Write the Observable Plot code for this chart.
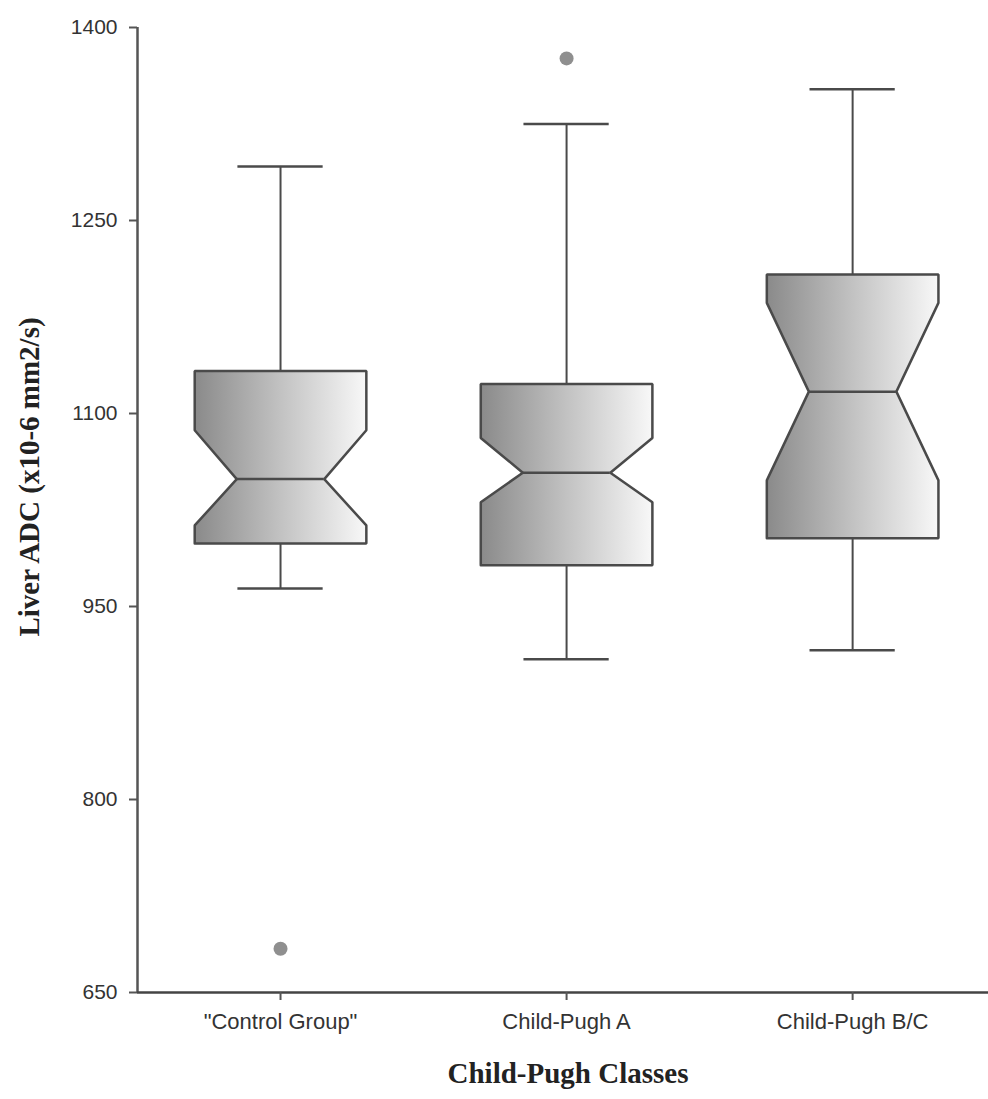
<!DOCTYPE html>
<html>
<head>
<meta charset="utf-8">
<script src="https://cdn.jsdelivr.net/npm/d3@7"></script>
<script src="https://cdn.jsdelivr.net/npm/@observablehq/plot@0.6"></script>
<style>
  html, body { margin: 0; padding: 0; background: #fff; }
</style>
</head>
<body>
<div id="chart"></div>
<script>
// ---- data ----
const groups = ['"Control Group"', "Child-Pugh A", "Child-Pugh B/C"];
const whiskerHigh = [1292, 1325, 1352];
const q3 = [1133, 1123, 1208];
const notchHigh = [1087, 1081, 1186];
const median = [1049, 1054, 1117];
const notchLow = [1013, 1031, 1048];
const q1 = [999, 982, 1003];
const whiskerLow = [964, 909, 916];
const outlierGroup = [1, 2];
const outlierValue = [684, 1376];
const yTicks = [650, 800, 950, 1100, 1250, 1400];
const yTitle = "Liver ADC (x10-6 mm2/s)";
const xTitle = "Child-Pugh Classes";

// ---- styling constants (in x-data units: one category = 1) ----
const boxHalf = 0.30;
const notchInset = 0.147;
const capHalf = 0.149;
const xDomain = [0.5, 3.475];
const yDomain = [650, 1400];
const lineColor = "#4a4a4a";
const serif = "'Liberation Serif', 'DejaVu Serif', serif";

const stats = groups.map((g, i) => ({
  pos: i + 1, name: g,
  hi: whiskerHigh[i], q3: q3[i], nh: notchHigh[i], med: median[i],
  nl: notchLow[i], q1: q1[i], lo: whiskerLow[i]
}));

// notched box outline built from the statistics
const outline = stats.flatMap(s => [
  [s.pos - boxHalf, s.q1], [s.pos - boxHalf, s.nl], [s.pos - boxHalf + notchInset, s.med],
  [s.pos - boxHalf, s.nh], [s.pos - boxHalf, s.q3], [s.pos + boxHalf, s.q3],
  [s.pos + boxHalf, s.nh], [s.pos + boxHalf - notchInset, s.med], [s.pos + boxHalf, s.nl],
  [s.pos + boxHalf, s.q1], [s.pos - boxHalf, s.q1]
].map(([x, y]) => ({x, y, g: s.name})));

const outliers = outlierGroup.map((g, i) => ({x: g, y: outlierValue[i]}));

const plot = Plot.plot({
  width: 988,
  height: 1099,
  marginLeft: 137,
  marginRight: 0,
  marginTop: 27,
  marginBottom: 107,
  style: {fontFamily: "'Liberation Sans', Arial, sans-serif", background: "#fff"},
  x: {domain: xDomain},
  y: {domain: yDomain},
  marks: [
    // whiskers
    Plot.ruleX(stats, {x: "pos", y1: "q3", y2: "hi", stroke: lineColor, strokeWidth: 2}),
    Plot.ruleX(stats, {x: "pos", y1: "lo", y2: "q1", stroke: lineColor, strokeWidth: 2}),
    // caps
    Plot.ruleY(stats, {y: "hi", x1: d => d.pos - capHalf, x2: d => d.pos + capHalf, stroke: lineColor, strokeWidth: 2.5}),
    Plot.ruleY(stats, {y: "lo", x1: d => d.pos - capHalf, x2: d => d.pos + capHalf, stroke: lineColor, strokeWidth: 2.5}),
    // notched boxes
    Plot.line(outline, {x: "x", y: "y", z: "g", fill: "url(#boxGrad)", stroke: lineColor, strokeWidth: 2.5, strokeLinejoin: "miter"}),
    // medians
    Plot.ruleY(stats, {y: "med", x1: d => d.pos - boxHalf + notchInset, x2: d => d.pos + boxHalf - notchInset, stroke: lineColor, strokeWidth: 2.5}),
    // outliers
    Plot.dot(outliers, {x: "x", y: "y", r: 7, fill: "#8f8f8f", stroke: "none"}),
    // axes
    Plot.ruleX([xDomain[0]], {stroke: "#555", strokeWidth: 2.5}),
    Plot.ruleY([yDomain[0]], {stroke: "#444", strokeWidth: 2.5}),
    Plot.axisY({ticks: yTicks, tickFormat: d => String(d), tickSize: 8, tickPadding: 12, fontSize: 21, label: null, stroke: "#555", strokeWidth: 2, fill: "#333"}),
    Plot.axisX({ticks: [1, 2, 3], tickFormat: i => groups[i - 1], tickSize: 8, tickPadding: 13, fontSize: 22, label: null, stroke: "#555", strokeWidth: 2, fill: "#333"}),
    // titles
    Plot.text([yTitle], {frameAnchor: "left", textAnchor: "middle", rotate: -90, dx: -108, dy: -33, fontSize: 29, fontWeight: "bold", fontFamily: serif, fill: "#222", text: d => d}),
    Plot.text([xTitle], {frameAnchor: "bottom", textAnchor: "middle", dx: 5, dy: 90, fontSize: 29, fontWeight: "bold", fontFamily: serif, fill: "#222", text: d => d})
  ]
});

d3.select(plot).insert("defs", ":first-child").html(
  '<linearGradient id="boxGrad" x1="0" y1="0" x2="1" y2="0">' +
  '<stop offset="0" stop-color="#8a8a8a"/>' +
  '<stop offset="0.5" stop-color="#c2c2c2"/>' +
  '<stop offset="1" stop-color="#f8f8f8"/>' +
  '</linearGradient>'
);

document.getElementById("chart").appendChild(plot);
</script>
</body>
</html>
